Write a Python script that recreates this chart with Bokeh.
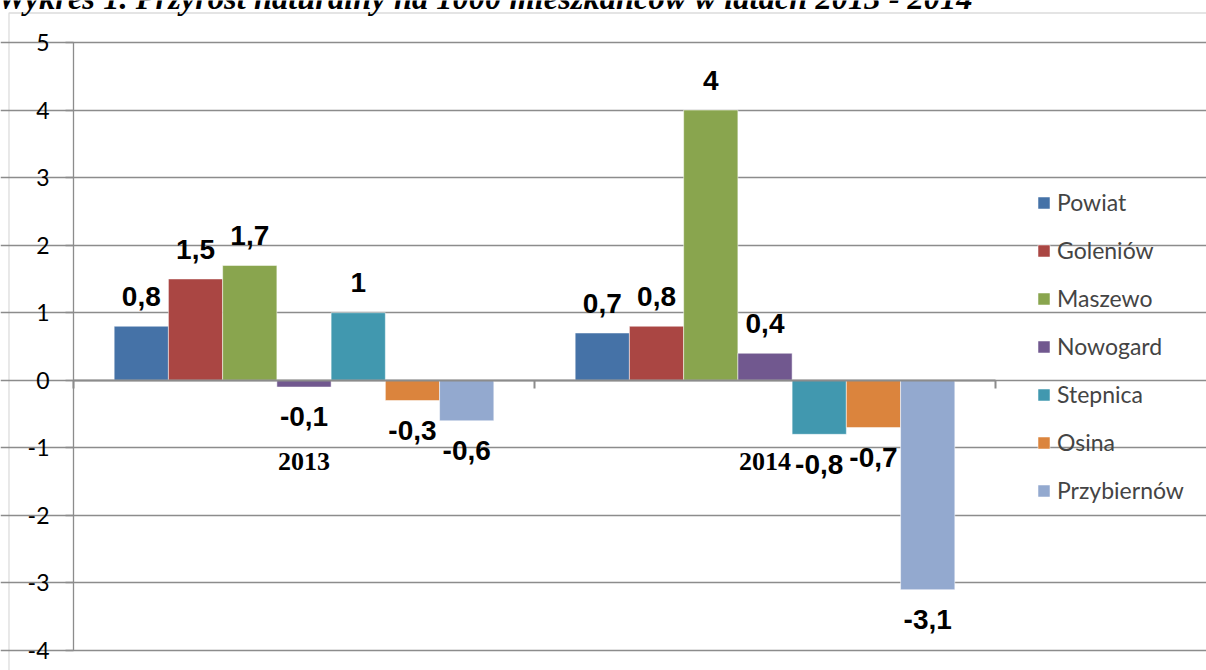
from bokeh.plotting import figure
from bokeh.models import (ColumnDataSource, Range1d, FixedTicker, LinearAxis, Legend, LegendItem,
                          Label, BoxAnnotation)
from bokeh.core.properties import value
from bokeh.embed import file_html
from bokeh.resources import INLINE

# ---- data ----
years = ["2013", "2014"]
series = ["Powiat", "Goleniów", "Maszewo", "Nowogard", "Stepnica", "Osina", "Przybiernów"]
vals_2013 = [0.8, 1.5, 1.7, -0.1, 1.0, -0.3, -0.6]
vals_2014 = [0.7, 0.8, 4.0, 0.4, -0.8, -0.7, -3.1]
colors = ["#4572A7", "#AA4643", "#89A54E", "#71588F", "#4198AF", "#DB843D", "#93A9CF"]
y_ticks = [-4, -3, -2, -1, 0, 1, 2, 3, 4, 5]
title_text = "Wykres 1. Przyrost naturalny na 1000 mieszkańców w latach 2013 - 2014"

W, H = 1206, 670
# plot area in pixels: x 73..995 for categories 0..2, y 42..650 for 5..-4
PL, PR, PT, PB = 73, 995, 42, 650
ppu_x = (PR - PL) / 2.0
ppu_y = (PB - PT) / 9.0
x_range = Range1d(-PL / ppu_x, 2 + (W - PR) / ppu_x)
y_range = Range1d(-4 - (H - PB) / ppu_y, 5 + PT / ppu_y)

p = figure(width=W, height=H, output_backend="svg", toolbar_location=None,
           x_range=x_range, y_range=y_range, x_axis_location=None, y_axis_location=None,
           min_border=0, min_border_left=0, min_border_right=0, min_border_top=0, min_border_bottom=0)
p.outline_line_color = None
p.background_fill_color = "white"
p.border_fill_color = "white"

grid_col = "#8c8c8c"

# y axis, drawn at x = 0 (left edge of the plot area)
ya = LinearAxis(fixed_location=0, bounds=(-4, 5), ticker=FixedTicker(ticks=y_ticks),
                major_label_overrides={t: str(t) for t in y_ticks})
ya.axis_line_color = grid_col
ya.axis_line_width = 1.3
ya.major_tick_line_color = grid_col
ya.major_tick_line_width = 1.3
ya.major_tick_out = 8
ya.major_tick_in = 0
ya.minor_tick_line_color = None
ya.major_label_standoff = 16
ya.major_label_text_font = "Lato"
ya.major_label_text_font_size = "23px"
ya.major_label_text_color = "black"
p.add_layout(ya, "left")

p.xgrid.visible = False
p.ygrid.ticker = FixedTicker(ticks=y_ticks)
p.ygrid.bounds = (0, 2)
p.ygrid.grid_line_color = grid_col
p.ygrid.grid_line_width = 1.3

# bars
nser = len(series)
w = 1.0 / (nser + 1.5)
centers = [i + 0.5 for i in range(len(years))]
items = []
for j, name in enumerate(series):
    vals = [vals_2013[j], vals_2014[j]]
    xs = [c + (j - (nser - 1) / 2) * w for c in centers]
    labels = [(("%g" % v).replace(".", ",")) for v in vals]
    ly = [v + (0.44 if v >= 0 else -0.44) for v in vals]
    src = ColumnDataSource(dict(x=xs, top=vals, ly=ly, lab=labels))
    r = p.vbar(x="x", top="top", bottom=0, width=w, source=src, fill_color=colors[j],
               line_color="white", line_alpha=0.5, line_width=1)
    p.text(x="x", y="ly", text="lab", source=src, text_align="center", text_baseline="middle",
           text_font=value("Liberation Sans"), text_font_style="bold",
           text_font_size=value("28px"), text_color="black")
    items.append(LegendItem(label=name, renderers=[r]))

# category axis along zero
xa = LinearAxis(fixed_location=0, bounds=(0, 2), ticker=FixedTicker(ticks=[0, 1, 2]),
                major_label_overrides={0: "", 1: "", 2: ""})
xa.axis_line_color = grid_col
xa.axis_line_width = 2
xa.major_tick_line_color = grid_col
xa.major_tick_line_width = 2
xa.major_tick_out = 8
xa.major_tick_in = 0
xa.minor_tick_line_color = None
p.add_layout(xa, "below")

xl = LinearAxis(fixed_location=0, ticker=FixedTicker(ticks=centers),
                major_label_overrides={c: y for c, y in zip(centers, years)})
xl.axis_line_color = None
xl.major_tick_line_color = None
xl.minor_tick_line_color = None
xl.major_tick_out = 0
xl.major_label_standoff = 73
xl.major_label_text_font = "Liberation Serif"
xl.major_label_text_font_style = "bold"
xl.major_label_text_font_size = "26px"
xl.major_label_text_color = "black"
p.add_layout(xl, "below")

# legend
legend = Legend(items=items, location=(1036, H - 504))
legend.padding = 0
legend.margin = 0
legend.border_line_color = None
legend.background_fill_alpha = 0
legend.glyph_width = 15
legend.glyph_height = 15
legend.label_standoff = 6
legend.spacing = 20
legend.label_text_font = "Lato"
legend.label_text_font_size = "23px"
legend.label_text_baseline = "middle"
p.add_layout(legend, "center")

# outer chart border (left edge x=8, top edge y=12)
border = BoxAnnotation(left=8.5, right=W + 50, top=H - 12.5, bottom=-50,
                       left_units="screen", right_units="screen", top_units="screen", bottom_units="screen",
                       fill_alpha=0, line_color=grid_col, line_width=1.3, level="underlay")
p.add_layout(border)

# title (cut at the top of the page, as in the source picture)
title = Label(x=-3, y=H + 3, x_units="screen", y_units="screen", text=title_text,
              text_font="Liberation Serif", text_font_style="bold italic", text_font_size="32.5px",
              text_baseline="alphabetic", text_align="left", text_color="black")
p.add_layout(title)

open("out.html", "w").write(file_html(p, INLINE))
